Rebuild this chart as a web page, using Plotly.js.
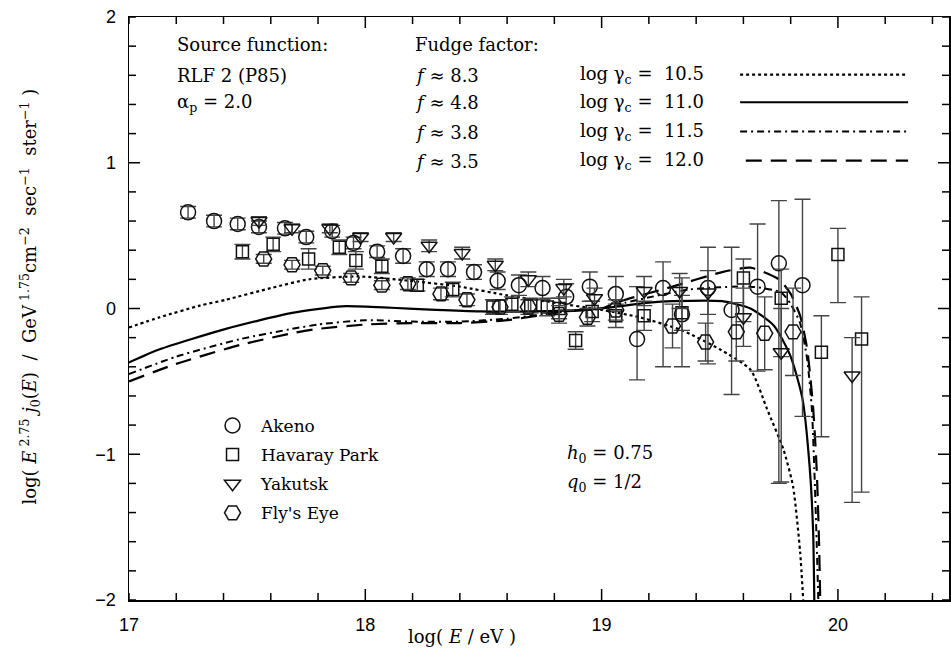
<!DOCTYPE html>
<html>
<head>
<meta charset="utf-8">
<script src="https://cdn.plot.ly/plotly-3.0.1.min.js"></script>
<style>html,body{margin:0;padding:0;background:#fff;}#chart{width:951px;height:650px;}</style>
</head>
<body>
<div id="chart"></div>
<script>
// ---- Data ----
// Akeno (circles)
const akenoX = [17.25,17.36,17.46,17.55,17.66,17.75,17.86,17.95,18.05,18.16,18.26,18.35,18.46,18.56,18.65,18.75,18.85,18.95,19.06,19.15,19.26,19.34,19.45,19.55,19.66,19.75,19.85];
const akenoY = [0.66,0.60,0.58,0.56,0.55,0.49,0.53,0.45,0.39,0.36,0.27,0.27,0.25,0.19,0.16,0.14,0.08,0.15,0.10,-0.21,0.14,-0.04,0.14,-0.01,0.15,0.31,0.16];
const akenoErrUp = [0.04,0.04,0.04,0.04,0.04,0.04,0.04,0.04,0.04,0.05,0.05,0.05,0.05,0.06,0.07,0.08,0.09,0.10,0.12,0.36,0.18,0.25,0.28,0.43,0.43,0.43,0.59];
const akenoErrDn = [0.04,0.04,0.04,0.04,0.04,0.04,0.04,0.04,0.04,0.05,0.05,0.05,0.05,0.06,0.07,0.08,0.09,0.10,0.12,0.28,0.54,0.36,0.52,0.58,0.58,1.51,0.90];

// Haverah Park (squares)
const havX = [17.48,17.61,17.76,17.89,17.96,18.07,18.22,18.37,18.54,18.62,18.70,18.77,18.82,18.89,18.96,19.06,19.18,19.34,19.60,19.76,19.93,20.00,20.10];
const havY = [0.39,0.44,0.34,0.42,0.33,0.29,0.16,0.13,0.01,0.03,0.02,0.01,0.00,-0.22,-0.02,-0.05,-0.05,-0.03,0.21,0.07,-0.30,0.37,-0.21];
const havErrUp = [0.05,0.05,0.07,0.05,0.06,0.05,0.04,0.05,0.05,0.05,0.05,0.06,0.07,0.06,0.07,0.08,0.10,0.12,0.13,0.20,0.25,0.18,0.29];
const havErrDn = [0.05,0.05,0.07,0.05,0.06,0.05,0.04,0.05,0.05,0.05,0.05,0.06,0.07,0.06,0.07,0.08,0.10,0.12,0.30,0.40,0.58,0.33,1.05];

// Yakutsk (down triangles)
const yakX = [17.55,17.69,17.85,17.98,18.12,18.27,18.41,18.55,18.69,18.84,18.97,19.18,19.33,19.45,19.60,19.76,20.06];
const yakY = [0.60,0.55,0.55,0.49,0.49,0.43,0.38,0.30,0.20,0.14,0.07,0.12,0.12,0.11,-0.06,-0.30,-0.46];
const yakErrUp = [0.03,0.03,0.03,0.03,0.03,0.04,0.04,0.04,0.05,0.06,0.07,0.10,0.12,0.15,0.20,0.30,0.26];
const yakErrDn = [0.03,0.03,0.03,0.03,0.03,0.04,0.04,0.04,0.05,0.06,0.07,0.10,0.12,0.15,0.20,0.89,0.87];

// Fly's Eye (hexagons)
const flyX = [17.57,17.69,17.82,17.94,18.07,18.18,18.32,18.43,18.57,18.69,18.82,18.94,19.06,19.30,19.44,19.57,19.69,19.81];
const flyY = [0.34,0.30,0.26,0.21,0.16,0.17,0.10,0.06,0.01,0.01,-0.04,-0.06,-0.01,-0.12,-0.23,-0.16,-0.17,-0.16];
const flyErr = [0.03,0.03,0.03,0.03,0.03,0.04,0.04,0.04,0.05,0.05,0.06,0.06,0.07,0.15,0.13,0.20,0.25,0.30];

// Model curves
const c105X = [17.0,17.13,17.3,17.41,17.6,17.76,17.97,18.19,18.4,18.6,18.8,19.0,19.16,19.34,19.5,19.63,19.70,19.77,19.81,19.84,19.853];
const c105Y = [-0.13,-0.06,0.02,0.06,0.14,0.20,0.22,0.19,0.15,0.09,0.04,-0.01,-0.06,-0.15,-0.28,-0.42,-0.69,-0.97,-1.22,-1.67,-2.0];
const c110X = [17.0,17.13,17.41,17.69,17.90,18.11,18.3,18.49,18.7,18.92,19.05,19.2,19.3,19.51,19.63,19.73,19.80,19.85,19.88,19.895,19.90];
const c110Y = [-0.37,-0.28,-0.14,-0.03,0.015,0.005,-0.01,-0.02,-0.02,-0.01,0.01,0.04,0.05,0.05,0.0,-0.12,-0.33,-0.62,-1.08,-1.53,-2.0];
const c115X = [17.0,17.2,17.47,17.69,17.8,18.0,18.2,18.4,18.6,18.85,19.0,19.1,19.37,19.63,19.76,19.80,19.84,19.87,19.89,19.90,19.91,19.917];
const c115Y = [-0.45,-0.33,-0.21,-0.14,-0.11,-0.08,-0.09,-0.09,-0.07,-0.02,0.0,0.04,0.13,0.15,0.11,0.03,-0.10,-0.35,-0.70,-1.1,-1.6,-2.0];
const c120X = [17.0,17.2,17.47,17.69,17.8,18.0,18.2,18.4,18.6,18.85,19.0,19.1,19.3,19.51,19.63,19.75,19.80,19.84,19.87,19.895,19.91,19.92,19.925];
const c120Y = [-0.50,-0.38,-0.25,-0.17,-0.14,-0.11,-0.10,-0.10,-0.08,-0.02,0.0,0.06,0.15,0.25,0.28,0.20,0.10,-0.05,-0.28,-0.68,-1.1,-1.6,-2.0];

const curveNames = ['log γc = 10.5','log γc = 11.0','log γc = 11.5','log γc = 12.0'];
const gammaLabels = ['10.5','11.0','11.5','12.0'];
const fudgeLabels = ['8.3','4.8','3.8','3.5'];
const datasetNames = ['Akeno','Havaray Park','Yakutsk',"Fly's Eye"];

// tick positions (every 0.2) and labels (only at whole numbers)
const xTickVals = [17,17.2,17.4,17.6,17.8,18,18.2,18.4,18.6,18.8,19,19.2,19.4,19.6,19.8,20,20.2,20.4];
const xTickText = ['17','','','','','18','','','','','19','','','','','20','',''];
const yTickVals = [-2,-1.8,-1.6,-1.4,-1.2,-1,-0.8,-0.6,-0.4,-0.2,0,0.2,0.4,0.6,0.8,1,1.2,1.4,1.6,1.8,2];
const yTickText = ['−2','','','','','−1','','','','','0','','','','','1','','','','','2'];
const xMajor = [18, 19, 20];
const yMajor = [-1, 0, 1];

// ---- styles ----
const SERIF = '"DejaVu Serif", "Liberation Serif", serif';
const SANS = '"Liberation Sans", Arial, sans-serif';
const dashes = ['dot','solid','7px,4px,2px,4px','16px,9px'];
const lineW = [2.2,2.2,2,2.2];
const INK = '#111';

function curve(x, y, i) {
  return {x: x, y: y, type: 'scatter', mode: 'lines', name: curveNames[i], showlegend: false,
    line: {color: '#000', width: lineW[i], dash: dashes[i], shape: 'spline', smoothing: 0.6}};
}
function pts(x, y, up, dn, i, sym, size) {
  return {x: x, y: y, type: 'scatter', mode: 'markers', name: datasetNames[i], legendgroup: 'g' + i,
    marker: {symbol: sym, size: size, color: INK, line: {color: INK, width: 1.5}},
    error_y: {type: 'data', symmetric: false, array: up, arrayminus: dn, color: '#444', thickness: 1.4, width: 8}};
}

const traces = [
  curve(c105X, c105Y, 0), curve(c110X, c110Y, 1), curve(c115X, c115Y, 2), curve(c120X, c120Y, 3),
  pts(akenoX, akenoY, akenoErrUp, akenoErrDn, 0, 'circle-open', 15),
  pts(havX, havY, havErrUp, havErrDn, 1, 'square-open', 12),
  pts(yakX, yakY, yakErrUp, yakErrDn, 2, 'triangle-down-open', 14),
  pts(flyX, flyY, flyErr, flyErr, 3, 'hexagon2-open', 16)
];

const rowsY = [1.60, 1.41, 1.21, 1.01];
const annotations = [
  {x: 17.195, y: 1.81, text: 'Source function:'},
  {x: 17.195, y: 1.60, text: 'RLF 2 (P85)'},
  {x: 17.195, y: 1.41, text: 'α<sub>p</sub> = 2.0'},
  {x: 18.20, y: 1.81, text: 'Fudge factor:'},
  {x: 18.845, y: -1.00, text: '<i>h</i><sub>0</sub> = 0.75'},
  {x: 18.845, y: -1.20, text: '<i>q</i><sub>0</sub> = 1/2'}
];
for (let i = 0; i < 4; i++) {
  annotations.push({x: 18.20, y: rowsY[i], text: '<i>f</i> ≈ ' + fudgeLabels[i]});
  annotations.push({x: 18.90, y: rowsY[i], text: 'log γ<sub>c</sub> =  ' + gammaLabels[i]});
}
annotations.forEach(a => { a.xref = 'x'; a.yref = 'y'; a.xanchor = 'left'; a.yanchor = 'middle'; a.showarrow = false; a.font = {family: SERIF, size: 18, color: '#000'}; });
// axis titles as annotations
annotations.push({xref: 'paper', yref: 'paper', x: -0.121, y: 0.52, textangle: -90, showarrow: false,
  xanchor: 'center', yanchor: 'middle', font: {family: SERIF, size: 18, color: '#000'},
  text: 'log( <i>E</i><sup> 2.75</sup> <i>j</i><sub>0</sub>(<i>E</i>)  /  GeV<sup> 1.75</sup>cm<sup>−2</sup>  sec<sup>−1</sup>  ster<sup>−1</sup> )'});
annotations.push({xref: 'paper', yref: 'paper', x: 0.406, y: -0.062, showarrow: false,
  xanchor: 'center', yanchor: 'middle', font: {family: SERIF, size: 18, color: '#000'},
  text: 'log( <i>E</i> / eV )'});

const shapes = [];
// line-style key samples
for (let i = 0; i < 4; i++) {
  shapes.push({type: 'line', xref: 'x', yref: 'y', x0: i === 3 ? 19.61 : 19.586, x1: 20.297, y0: rowsY[i] + 0.005, y1: rowsY[i] + 0.005,
    line: {color: '#000', width: lineW[i], dash: dashes[i]}});
}
// tick marks drawn as pixel-sized shapes on all four sides (long at whole numbers, short every 0.2)
const MAJ = 11, MIN = 7;
const tickLine = {color: '#000', width: 1.5};
xTickVals.forEach(v => {
  const L = xMajor.indexOf(v) >= 0 ? MAJ : MIN;
  shapes.push({type: 'line', xref: 'x', yref: 'paper', ysizemode: 'pixel', yanchor: 0, x0: v, x1: v, y0: 0, y1: L, line: tickLine});
  shapes.push({type: 'line', xref: 'x', yref: 'paper', ysizemode: 'pixel', yanchor: 1, x0: v, x1: v, y0: 0, y1: -L, line: tickLine});
});
yTickVals.forEach(v => {
  const L = yMajor.indexOf(v) >= 0 ? MAJ : MIN;
  shapes.push({type: 'line', xref: 'paper', yref: 'y', xsizemode: 'pixel', xanchor: 0, x0: 0, x1: L, y0: v, y1: v, line: tickLine});
  shapes.push({type: 'line', xref: 'paper', yref: 'y', xsizemode: 'pixel', xanchor: 1, x0: 0, x1: -L, y0: v, y1: v, line: tickLine});
});

const axisBase = {showgrid: false, zeroline: false, showline: true, linecolor: '#000', linewidth: 1.5,
  mirror: true, ticks: '', ticklabelstandoff: 8,
  tickfont: {family: SANS, size: 18, color: '#000'}, tickmode: 'array', fixedrange: true};

const layout = {
  width: 951, height: 650,
  margin: {l: 129, r: 2, t: 17, b: 50},
  paper_bgcolor: '#fff', plot_bgcolor: '#fff',
  xaxis: Object.assign({}, axisBase, {range: [17, 20.47], tickvals: xTickVals, ticktext: xTickText}),
  yaxis: Object.assign({}, axisBase, {range: [-2, 2], tickvals: yTickVals, ticktext: yTickText}),
  showlegend: true,
  legend: {x: 0.0915, y: 0.3294, xanchor: 'left', yanchor: 'top', bgcolor: 'rgba(0,0,0,0)',
    font: {family: SERIF, size: 17, color: '#000'}, traceorder: 'grouped', tracegroupgap: 4, itemwidth: 47},
  annotations: annotations,
  shapes: shapes
};

Plotly.newPlot('chart', traces, layout, {displayModeBar: false, staticPlot: true});
</script>
</body>
</html>
